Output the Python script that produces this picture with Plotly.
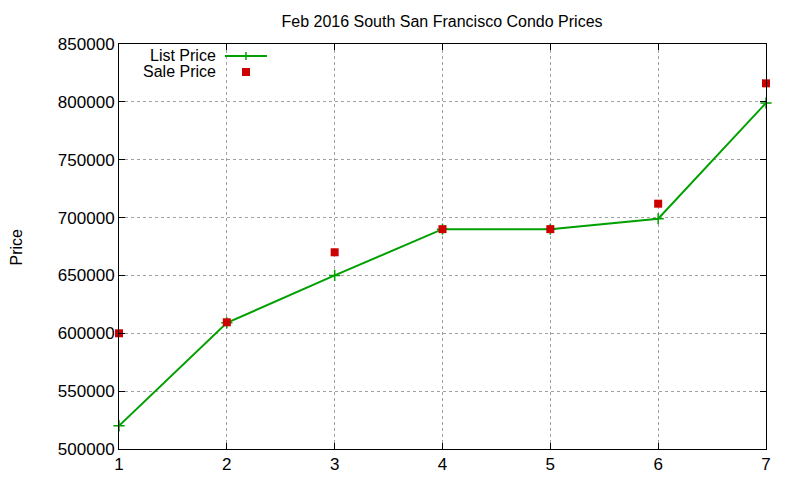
## plot.py

import plotly.graph_objects as go

# Data
listings = [1, 2, 3, 4, 5, 6, 7]
list_price = [520000, 609000, 650000, 690000, 690000, 699000, 799000]
sale_price = [600000, 609500, 670000, 690000, 690000, 712000, 816000]

GREEN = "#00a000"
RED = "#cc0000"
FONT = "Liberation Sans, Arial, sans-serif"

fig = go.Figure()

# List price: line with plus markers
fig.add_trace(
    go.Scatter(
        x=listings,
        y=list_price,
        mode="lines+markers",
        line=dict(color=GREEN, width=2),
        marker=dict(symbol="cross-thin", size=8, line=dict(color=GREEN, width=1.5)),
        name="List Price",
        cliponaxis=False,
    )
)

# Sale price: red squares only
fig.add_trace(
    go.Scatter(
        x=listings,
        y=sale_price,
        mode="markers",
        marker=dict(symbol="square", size=8, color=RED),
        name="Sale Price",
        cliponaxis=False,
    )
)

# gnuplot style key (text left, sample right) built by hand
key_items = [("List Price", 0.9704), ("Sale Price", 0.9309)]
for label, ky in key_items:
    fig.add_annotation(
        x=0.1530, y=ky, xref="paper", yref="paper",
        text=label, showarrow=False, xanchor="right", yanchor="middle",
        font=dict(family=FONT, size=16, color="black"),
    )

# list price sample: line plus cross
fig.add_shape(type="line", xref="paper", yref="paper",
              x0=0.1638, x1=0.2287, y0=0.9704, y1=0.9704,
              line=dict(color=GREEN, width=2))
fig.add_shape(type="line", xref="paper", yref="paper",
              x0=0.1963, x1=0.1963, y0=0.9605, y1=0.9803,
              line=dict(color=GREEN, width=1.5))
# sale price sample: red square
fig.add_shape(type="rect", xref="paper", yref="paper",
              x0=0.1901, x1=0.2025, y0=0.9210, y1=0.9408,
              line=dict(width=0), fillcolor=RED)

# y axis label placed like gnuplot does, far left
fig.add_annotation(
    x=-0.1577, y=0.5, xref="paper", yref="paper",
    text="Price", textangle=-90, showarrow=False,
    xanchor="center", yanchor="middle",
    font=dict(family=FONT, size=16, color="black"),
)

axis_style = dict(
    showline=True,
    linecolor="black",
    linewidth=1,
    mirror="ticks",
    ticks="inside",
    ticklen=6,
    tickcolor="black",
    showgrid=True,
    gridcolor="#a0a0a0",
    gridwidth=1,
    griddash="dot",
    zeroline=False,
    automargin=False,
    tickfont=dict(family=FONT, size=17, color="black"),
)

fig.update_xaxes(range=[1, 7], tickmode="linear", tick0=1, dtick=1, **axis_style)
fig.update_yaxes(
    range=[500000, 850000], tickmode="linear", tick0=500000, dtick=50000,
    tickformat="d",
    **axis_style,
)

# page body adds 8px margin, so the figure is a bit smaller than the window
fig.update_layout(
    title=dict(
        text="Feb 2016 South San Francisco Condo Prices",
        x=0.548, xanchor="center", y=0.9725, yanchor="middle",
        font=dict(family=FONT, size=16, color="black"),
    ),
    width=792,
    height=472,
    margin=dict(l=111, r=34, t=36, b=31),
    plot_bgcolor="white",
    paper_bgcolor="white",
    showlegend=False,
)

fig.write_html("out.html")
